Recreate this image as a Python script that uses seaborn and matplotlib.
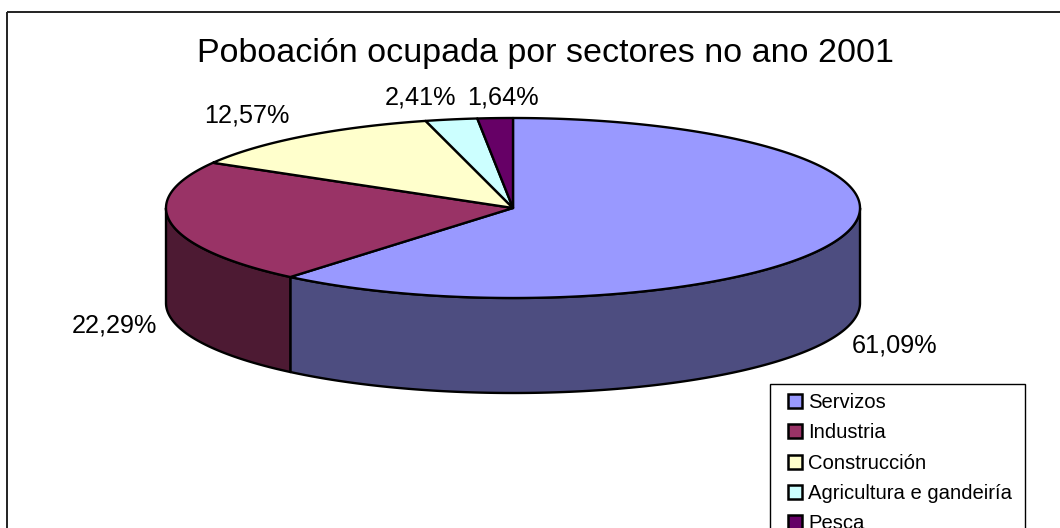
import numpy as np
import matplotlib
matplotlib.use("Agg")
import matplotlib.pyplot as plt
from matplotlib.patches import Patch, Polygon, Rectangle
import seaborn as sns

sectores = ["Servizos", "Industria", "Construcción", "Agricultura e gandeiría", "Pesca"]
porcentaxes = [61.09, 22.29, 12.57, 2.41, 1.64]
cores = ["#9999FF", "#993366", "#FFFFCC", "#CCFFFF", "#660066"]
titulo = "Poboación ocupada por sectores no ano 2001"

sns.set_theme(style="white")
plt.rcParams["font.family"] = ["Liberation Sans", "DejaVu Sans"]

# Eixes en pixeles da imaxe
fig = plt.figure(figsize=(10.6, 5.28), dpi=100)
ax = fig.add_axes([0, 0, 1, 1])
ax.set_xlim(0, 1060)
ax.set_ylim(528, 0)
ax.axis("off")

cx, cy, rx, ry, fondo = 513, 208, 347, 90, 95
lw = 1.7


def borde(a0, a1):
    # angulos en graos, desde arriba en sentido horario
    t = np.radians(np.linspace(a0, a1, max(int(abs(a1 - a0) * 2), 2)))
    return np.column_stack([cx + rx * np.sin(t), cy - ry * np.cos(t)])


# Marco exterior: os bordos dereito e inferior quedan fora da imaxe
ax.add_patch(Rectangle((6.5, 11.5), 1100, 560, fill=False, ec="#222222", lw=1.4))

angulos = np.concatenate([[0], np.cumsum(porcentaxes) / sum(porcentaxes) * 360])

# Parede lateral (so a parte dianteira, de 90 a 270 graos)
for i, cor in enumerate(cores):
    a0, a1 = max(angulos[i], 90), min(angulos[i + 1], 270)
    if a1 <= a0:
        continue
    arco = borde(a0, a1)
    pared = np.vstack([arco, arco[::-1] + [0, fondo]])
    escura = tuple(c * 0.5 for c in matplotlib.colors.to_rgb(cor))
    ax.add_patch(Polygon(pared, fc=escura, ec="black", lw=lw, joinstyle="round"))

# Tapa superior
for i, cor in enumerate(cores):
    arco = borde(angulos[i], angulos[i + 1])
    ax.add_patch(Polygon(np.vstack([[cx, cy], arco]), fc=cor, ec="black", lw=lw, joinstyle="round"))

# Etiquetas
centros = [(895, 352), (114, 332), (247, 122), (421, 104), (503, 104)]
for v, (x, y) in zip(porcentaxes, centros):
    ax.text(x, y, f"{v:.2f}%".replace(".", ","), ha="center", va="baseline", fontsize=18.2, color="black")

ax.text(545, 62, titulo, ha="center", va="baseline", fontsize=24.5, color="black")

# Lenda, cortada polo bordo inferior como no orixinal
ax.add_patch(Rectangle((770, 384), 255, 170, fc="white", ec="black", lw=1.0))
asas = [Patch(fc=c, ec="black", lw=1.8) for c in cores]
leg = ax.legend(asas, sectores, loc="upper left", bbox_to_anchor=(788, 393),
                bbox_transform=ax.transData, fontsize=14.6, frameon=False, borderaxespad=0,
                borderpad=0, handlelength=0.69, handleheight=0.69, handletextpad=0.3,
                labelspacing=0.56, labelcolor="black")

fig.savefig("out.png", dpi=100)
